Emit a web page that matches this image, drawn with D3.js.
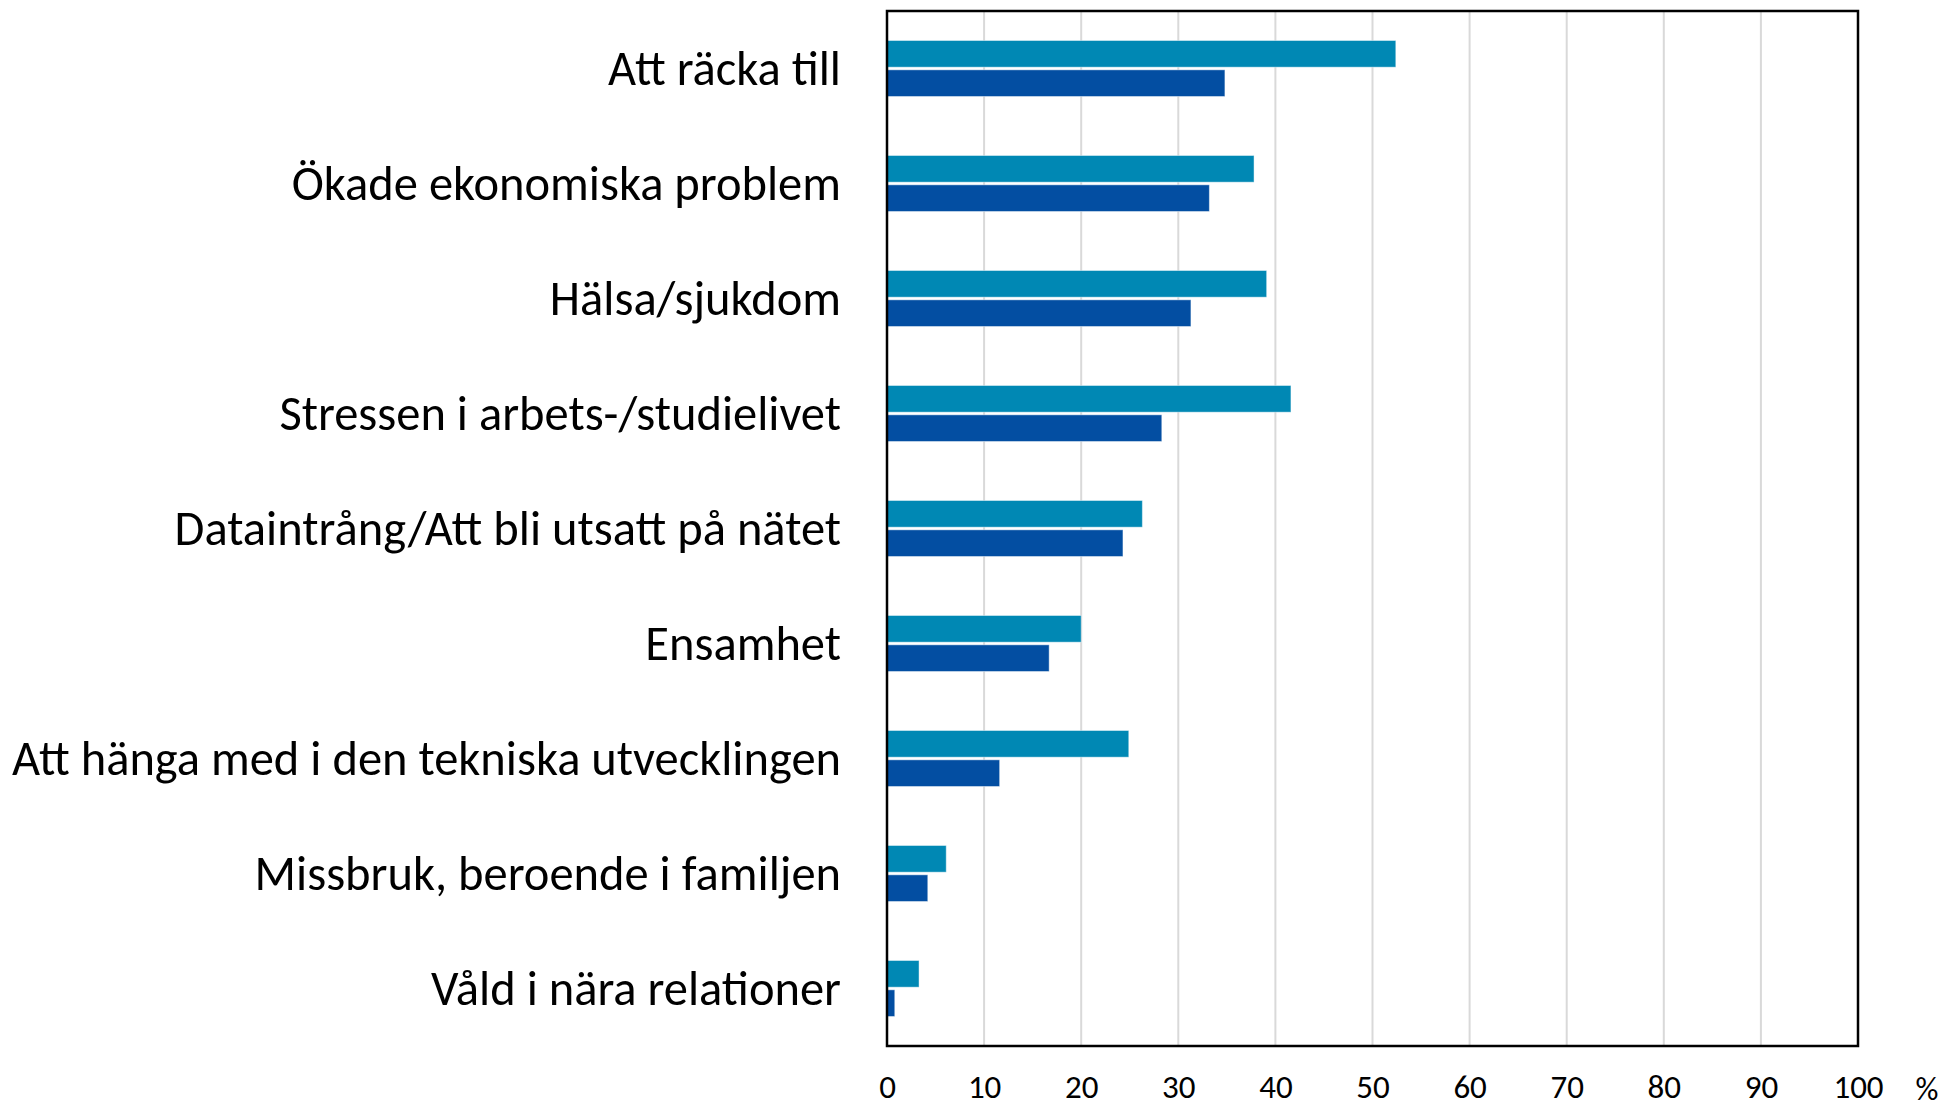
<!DOCTYPE html>
<html>
<head>
<meta charset="utf-8">
<script src="https://cdn.jsdelivr.net/npm/d3@7"></script>
<style>
  body { margin: 0; background: #fff; }
  text { font-family: Carlito, Lato, "Open Sans", sans-serif; fill: #000; }
</style>
</head>
<body>
<div class="bar-chart"></div>
<script>
var categories = [
  "Att räcka till",
  "Ökade ekonomiska problem",
  "Hälsa/sjukdom",
  "Stressen i arbets-/studielivet",
  "Dataintrång/Att bli utsatt på nätet",
  "Ensamhet",
  "Att hänga med i den tekniska utvecklingen",
  "Missbruk, beroende i familjen",
  "Våld i nära relationer"
];
var seriesA = [52.4, 37.8, 39.1, 41.6, 26.3, 20.0, 24.9, 6.1, 3.3];
var seriesB = [34.8, 33.2, 31.3, 28.3, 24.3, 16.7, 11.6, 4.2, 0.8];
var xTicks = [0, 10, 20, 30, 40, 50, 60, 70, 80, 90, 100];

var width = 1947;
var height = 1107;
var plot = { left: 887, right: 1858, top: 11, bottom: 1046 };

var data = categories.map(function (c, i) {
  return { name: c, values: [{ key: "a", value: seriesA[i] }, { key: "b", value: seriesB[i] }] };
});

var svg = d3.select(".bar-chart")
  .append("svg")
  .attr("width", width)
  .attr("height", height);

// Scales
var xScale = d3.scaleLinear()
  .domain([0, 100])
  .range([plot.left, plot.right]);

var yScale = d3.scaleBand()
  .domain(categories)
  .range([plot.top, plot.bottom])
  .padding(0);

var groupH = 56;
var inner = d3.scaleBand()
  .domain(["a", "b"])
  .range([(yScale.bandwidth() - groupH) / 2, (yScale.bandwidth() + groupH) / 2])
  .paddingInner(0.09);

var color = { a: "#0088b4", b: "#034ea2" };

// Grid lines
svg.append("g")
  .selectAll("line")
  .data(xTicks.slice(1, -1))
  .enter()
  .append("line")
  .attr("x1", function (d) { return xScale(d) })
  .attr("x2", function (d) { return xScale(d) })
  .attr("y1", plot.top)
  .attr("y2", plot.bottom)
  .style("stroke", "#d9d9d9")
  .style("stroke-width", 2);

// Bars
svg.selectAll(".group")
  .data(data).enter()
  .append("g")
  .attr("class", "group")
  .attr("transform", function (d) { return `translate(0, ${yScale(d.name)})` })
  .selectAll("rect")
  .data(function (d) { return d.values })
  .enter()
  .append("rect")
  .attr("x", xScale(0))
  .attr("y", function (d) { return inner(d.key) })
  .attr("width", function (d) { return xScale(d.value) - xScale(0) })
  .attr("height", inner.bandwidth())
  .style("fill", function (d) { return color[d.key] })
  .style("stroke", "#ffffff")
  .style("stroke-opacity", 0.45)
  .style("stroke-width", 1);

// Frame
svg.append("rect")
  .attr("x", plot.left)
  .attr("y", plot.top)
  .attr("width", plot.right - plot.left)
  .attr("height", plot.bottom - plot.top)
  .style("fill", "none")
  .style("stroke", "#000")
  .style("stroke-width", 2.5);

// Category labels
svg.append("g")
  .selectAll("text")
  .data(categories)
  .enter()
  .append("text")
  .attr("x", 841)
  .attr("y", function (d) { return yScale(d) + yScale.bandwidth() / 2 })
  .attr("text-anchor", "end")
  .attr("dominant-baseline", "central")
  .style("font-size", "48.5px")
  .text(function (d) { return d });

// X axis labels
var xAxis = d3.axisBottom(xScale).tickValues(xTicks).tickSize(0).tickPadding(0);
var gx = svg.append("g")
  .attr("transform", `translate(0, 1075)`)
  .call(xAxis);
gx.select(".domain").remove();
gx.selectAll("text")
  .attr("dy", "0.71em")
  .style("font-size", "33px")
  .style("font-family", "Carlito, Lato, 'Open Sans', sans-serif");

svg.append("text")
  .attr("x", 1927)
  .attr("y", 1089)
  .attr("text-anchor", "middle")
  .attr("dominant-baseline", "central")
  .style("font-size", "32px")
  .text("%");
</script>
</body>
</html>
